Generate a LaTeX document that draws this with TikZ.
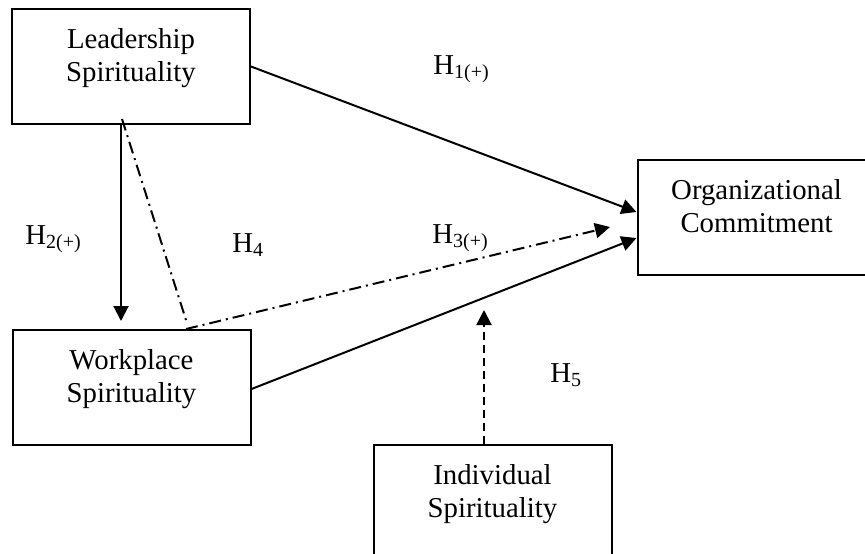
\documentclass[tikz,border=0pt]{standalone}
\usepackage{fontspec}
\setmainfont{Liberation Serif}
\usetikzlibrary{arrows.meta}

% two lines of text, set at the top of the box
\newcommand{\boxlines}[1]{\parbox[c][38pt][t]{100pt}{\centering #1}}

\begin{document}
\begin{tikzpicture}[x=0.5pt, y=-0.5pt,
    font=\fontsize{14.4}{16.5}\selectfont,
    block/.style={draw, rectangle, line width=1pt, minimum width=119pt, minimum height=57.5pt, inner sep=0pt},
    link/.style={line width=1pt},
    tip/.style={-{Triangle[length=7.5pt, width=7.5pt]}},
    dashdot/.style={line width=1pt, dash pattern=on 6pt off 2.5pt on 1pt off 2.5pt},
    hyp/.style={anchor=base west, inner sep=0pt}]
    \clip (0,0) rectangle (865,553);

    % Nodes
    \node[block] (lead) at (131,66.5) {\boxlines{Leadership\\Spirituality}};
    \node[block] (work) at (131.5,387.5) {\boxlines{Workplace\\Spirituality}};
    \node[block] (org) at (756.5,217.5) {\boxlines{Organizational\\Commitment}};
    \node[block] (indiv) at (492.5,502.5) {\boxlines{Individual\\Spirituality}};

    \coordinate (h4knee) at (186,320);
    \coordinate (h3tip) at (610,227);
    \coordinate (h5tip) at (484,310);

    % Labels
    \node[hyp] (h1) at (433,74) {H\textsubscript{1(+)}};
    \node[hyp] (h2) at (25,244) {H\textsubscript{2(+)}};
    \node[hyp] (h3) at (432,243) {H\textsubscript{3(+)}};
    \node[hyp] (h4) at (232,252) {H\textsubscript{4}};
    \node[hyp] (h5) at (550,382) {H\textsubscript{5}};

    % Arrows
    \draw[link, tip] (lead.east) -- ([yshift=2.75pt]org.west);
    \draw[link, tip] ([yshift=-0.75pt]work.east) -- ([yshift=-10.25pt]org.west);
    \draw[link, tip, shorten >=4pt] ([xshift=-5pt]lead.south) -- ([xshift=-5.25pt]work.north);
    \draw[dashdot] ([xshift=-4.5pt, yshift=3pt]lead.south) -- (h4knee);
    \draw[dashdot, tip] ([xshift=27.25pt]work.north) -- (h3tip);
    \draw[link, tip, dash pattern=on 4pt off 2.5pt] ([xshift=-4.25pt]indiv.north) -- (h5tip);
\end{tikzpicture}
\end{document}
